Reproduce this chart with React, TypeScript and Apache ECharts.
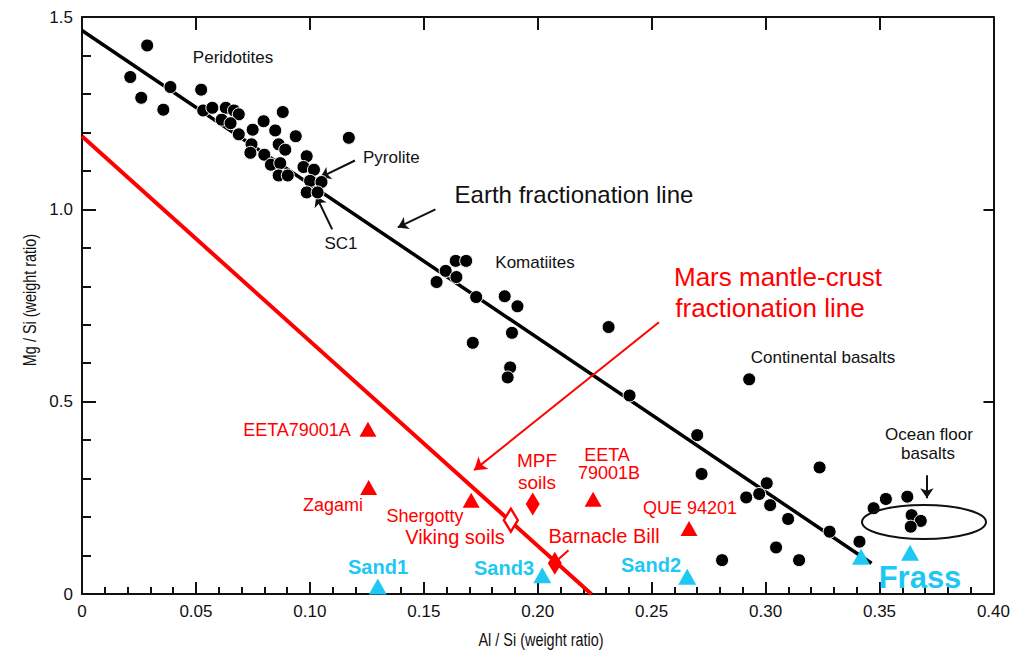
import React, { useEffect, useRef } from "react";
import * as echarts from "echarts";

// ---------- data (Al/Si, Mg/Si weight ratios) ----------
const earthLine: [number, number][] = [[0, 1.465], [0.3465, 0.08]];
const marsLine: [number, number][] = [[0, 1.19], [0.2235, 0]];

const earthRocks: [number, number][] = [
  [0.0286, 1.426], [0.0212, 1.344], [0.026, 1.29], [0.0357, 1.259], [0.0388, 1.318],
  [0.0523, 1.311], [0.0532, 1.257], [0.0572, 1.264], [0.0631, 1.264], [0.0667, 1.257],
  [0.0688, 1.247], [0.0613, 1.233], [0.0652, 1.224], [0.0688, 1.195], [0.0749, 1.207],
  [0.0744, 1.169], [0.0797, 1.229], [0.0881, 1.253], [0.0848, 1.205], [0.0938, 1.19],
  [0.0863, 1.169], [0.0892, 1.155], [0.0739, 1.147], [0.08, 1.142], [0.0829, 1.116],
  [0.087, 1.12], [0.0863, 1.088], [0.0903, 1.088], [0.0986, 1.138], [0.0972, 1.11],
  [0.1018, 1.103], [0.1001, 1.074], [0.1051, 1.071], [0.0986, 1.044], [0.1034, 1.044],
  [0.1171, 1.186],
  [0.164, 0.866], [0.1686, 0.866], [0.1596, 0.84], [0.1643, 0.824], [0.1556, 0.811],
  [0.173, 0.772], [0.1855, 0.774], [0.1911, 0.748], [0.1887, 0.679], [0.1715, 0.653],
  [0.1879, 0.589], [0.1868, 0.563], [0.2311, 0.694], [0.2403, 0.516],
  [0.2928, 0.558], [0.27, 0.413], [0.2719, 0.312], [0.3237, 0.329], [0.3005, 0.288],
  [0.2972, 0.26], [0.2915, 0.251], [0.302, 0.231], [0.3099, 0.195], [0.3281, 0.162],
  [0.3412, 0.136], [0.3046, 0.121], [0.2809, 0.088], [0.3147, 0.088],
  [0.3474, 0.223], [0.3528, 0.247], [0.3622, 0.253], [0.3641, 0.205], [0.3681, 0.19],
  [0.3637, 0.175],
];

// EETA79001A, Zagami, Shergotty, EETA79001B, QUE 94201
const marsMeteorites: [number, number][] = [
  [0.1255, 0.428], [0.1258, 0.277], [0.1708, 0.244], [0.2243, 0.246], [0.2664, 0.1706],
];
const vikingSoils: [number, number][] = [[0.1882, 0.192]];
// MPF soils, Barnacle Bill
const pathfinder: [number, number][] = [[0.1978, 0.2338], [0.2075, 0.0797]];
// Sand1, Sand3, Sand2, Frass, Frass
const samples: [number, number][] = [
  [0.1298, 0.0195], [0.202, 0.049], [0.2656, 0.045], [0.3419, 0.097], [0.3634, 0.107],
];

// annotation arrows (data coordinates)
const arrowLines: [number, number][][] = [
  [[0.1198, 1.127], [0.1046, 1.083]], // Pyrolite
  [[0.1098, 0.948], [0.1028, 1.034]], // SC1
  [[0.1551, 1.0], [0.1386, 0.953]], // Earth fractionation line
  [[0.3708, 0.309], [0.3708, 0.249]], // Ocean floor basalts
];
const redArrow: [number, number][][] = [[[0.2532, 0.7065], [0.1721, 0.322]]];
const barnacleLeader: [number, number][][] = [[[0.2135, 0.114], [0.2074, 0.081]]];

const xTicks = [0, 0.05, 0.1, 0.15, 0.2, 0.25, 0.3, 0.35, 0.4];
const yTicks = [0, 0.5, 1.0, 1.5];
const xName = "Al / Si (weight ratio)";
const yName = "Mg / Si (weight ratio)";

const SANS = "'Liberation Sans', Arial, Helvetica, sans-serif";
const RED = "#ff0000";
const CYAN = "#1ec8f2";
const INK = "#111111";

function txt(text: string, x: number, y: number, size: number, color: string, bold = false, align = "center") {
  return {
    type: "text",
    x,
    y,
    z: 50,
    style: {
      text,
      fill: color,
      fontSize: size,
      fontFamily: SANS,
      fontWeight: bold ? "bold" : "normal",
      textAlign: align,
      textVerticalAlign: "middle",
    },
  };
}

export default function App() {
  const ref = useRef<HTMLDivElement>(null);
  useEffect(() => {
    const chart = echarts.init(ref.current!, null, { renderer: "svg" });
    const axisCommon = {
      min: 0,
      axisLine: { show: true, onZero: false, lineStyle: { color: INK, width: 2 } },
      splitLine: { show: false },
    };
    chart.setOption({
      animation: false,
      backgroundColor: "#ffffff",
      grid: { left: 82, right: 12, top: 17, bottom: 62 },
      xAxis: [
        {
          ...axisCommon,
          type: "value",
          max: xTicks[xTicks.length - 1],
          interval: 0.05,
          position: "bottom",
          axisTick: { show: true, inside: true, length: 12, lineStyle: { color: INK, width: 2 } },
          minorTick: { show: true, splitNumber: 5, length: 7, lineStyle: { color: INK, width: 2 } },
          axisLabel: {
            margin: 9,
            fontFamily: SANS,
            fontSize: 17,
            color: INK,
            formatter: (v: number) => (v === 0 ? "0" : v.toFixed(2)),
          },
        },
        {
          ...axisCommon,
          type: "value",
          max: xTicks[xTicks.length - 1],
          interval: 0.05,
          position: "top",
          axisTick: { show: true, inside: true, length: 13, lineStyle: { color: INK, width: 2 } },
          axisLabel: { show: false },
        },
      ],
      yAxis: [
        {
          ...axisCommon,
          type: "value",
          max: yTicks[yTicks.length - 1],
          interval: 0.5,
          position: "left",
          axisTick: { show: true, inside: true, length: 14, lineStyle: { color: INK, width: 2 } },
          minorTick: { show: true, splitNumber: 5, length: 9, lineStyle: { color: INK, width: 2 } },
          axisLabel: {
            margin: 9,
            fontFamily: SANS,
            fontSize: 17,
            color: INK,
            formatter: (v: number) => (v === 0 ? "0" : v.toFixed(1)),
          },
        },
        {
          ...axisCommon,
          type: "value",
          max: yTicks[yTicks.length - 1],
          interval: 0.5,
          position: "right",
          axisTick: { show: true, inside: true, length: 10, lineStyle: { color: INK, width: 2 } },
          axisLabel: { show: false },
        },
      ],
      series: [
        {
          type: "line",
          data: earthLine,
          symbol: "none",
          lineStyle: { color: "#000", width: 3.5 },
          z: 2,
        },
        {
          type: "line",
          data: marsLine,
          symbol: "none",
          lineStyle: { color: RED, width: 4 },
          z: 2,
        },
        {
          type: "lines",
          coordinateSystem: "cartesian2d",
          data: arrowLines.map((c) => ({ coords: c })),
          symbol: ["none", "arrow"],
          symbolSize: 10,
          lineStyle: { color: INK, width: 2, opacity: 1 },
          z: 3,
        },
        {
          type: "lines",
          coordinateSystem: "cartesian2d",
          data: redArrow.map((c) => ({ coords: c })),
          symbol: ["none", "arrow"],
          symbolSize: 12,
          lineStyle: { color: RED, width: 2, opacity: 1 },
          z: 3,
        },
        {
          type: "lines",
          coordinateSystem: "cartesian2d",
          data: barnacleLeader.map((c) => ({ coords: c })),
          symbol: ["none", "none"],
          lineStyle: { color: RED, width: 2, opacity: 1 },
          z: 3,
        },
        {
          type: "scatter",
          data: earthRocks,
          symbol: "circle",
          symbolSize: 13,
          itemStyle: { color: "#000", borderColor: "#ffffff", borderWidth: 1, opacity: 1 },
          z: 5,
        },
        {
          type: "scatter",
          data: marsMeteorites,
          symbol: "triangle",
          symbolSize: [17, 15],
          itemStyle: { color: RED, opacity: 1 },
          z: 5,
        },
        {
          type: "scatter",
          data: vikingSoils,
          symbol: "diamond",
          symbolSize: [14, 23],
          itemStyle: { color: "#ffffff", borderColor: RED, borderWidth: 2.5, opacity: 1 },
          z: 6,
        },
        {
          type: "scatter",
          data: pathfinder,
          symbol: "diamond",
          symbolSize: [14, 23],
          itemStyle: { color: RED, opacity: 1 },
          z: 6,
        },
        {
          type: "scatter",
          data: samples,
          symbol: "triangle",
          symbolSize: [18, 16],
          itemStyle: { color: CYAN, opacity: 1 },
          z: 6,
        },
      ],
      graphic: [
        {
          type: "text",
          x: 541,
          y: 640,
          scaleX: 0.76,
          style: {
            text: xName, fill: INK, fontSize: 19, fontFamily: SANS,
            textAlign: "center", textVerticalAlign: "middle",
          },
        },
        {
          type: "text",
          x: 30,
          y: 300,
          rotation: Math.PI / 2,
          scaleX: 0.76,
          style: {
            text: yName, fill: INK, fontSize: 19, fontFamily: SANS,
            textAlign: "center", textVerticalAlign: "middle",
          },
        },
        txt("Peridotites", 233, 57, 17, INK),
        txt("Pyrolite", 363, 157, 17, INK, false, "left"),
        txt("SC1", 341, 243, 17, INK),
        txt("Earth fractionation line", 574, 194, 24, INK),
        txt("Komatiites", 535, 262, 17, INK),
        txt("Mars mantle-crust", 778, 277, 26, RED),
        txt("fractionation line", 770, 308, 26, RED),
        txt("Continental basalts", 823, 357, 17, INK),
        txt("Ocean floor", 929, 434, 17, INK),
        txt("basalts", 928, 453, 17, INK),
        txt("EETA79001A", 297, 430, 18, RED),
        txt("Zagami", 333, 505, 18, RED),
        txt("Shergotty", 425, 516, 18, RED),
        txt("Viking soils", 455, 537, 20, RED),
        txt("MPF", 537, 460, 19, RED),
        txt("soils", 537, 482, 19, RED),
        txt("EETA", 607, 455, 18, RED),
        txt("79001B", 609, 473, 18, RED),
        txt("QUE 94201", 690, 508, 18, RED),
        txt("Barnacle Bill", 604, 536, 20, RED),
        txt("Sand1", 378, 567, 20, CYAN, true),
        txt("Sand3", 504, 568, 20, CYAN, true),
        txt("Sand2", 651, 565, 20, CYAN, true),
        txt("Frass", 920, 577, 31, CYAN, true),
        {
          type: "ellipse",
          shape: { cx: 924, cy: 522, rx: 62, ry: 17 },
          z: 40,
          style: { fill: "none", stroke: INK, lineWidth: 2 },
        },
      ],
    });
    return () => chart.dispose();
  }, []);
  return (
    <div
      ref={ref}
      style={{ position: "fixed", left: 0, top: 0, width: 1013, height: 656, background: "#fff" }}
    />
  );
}
